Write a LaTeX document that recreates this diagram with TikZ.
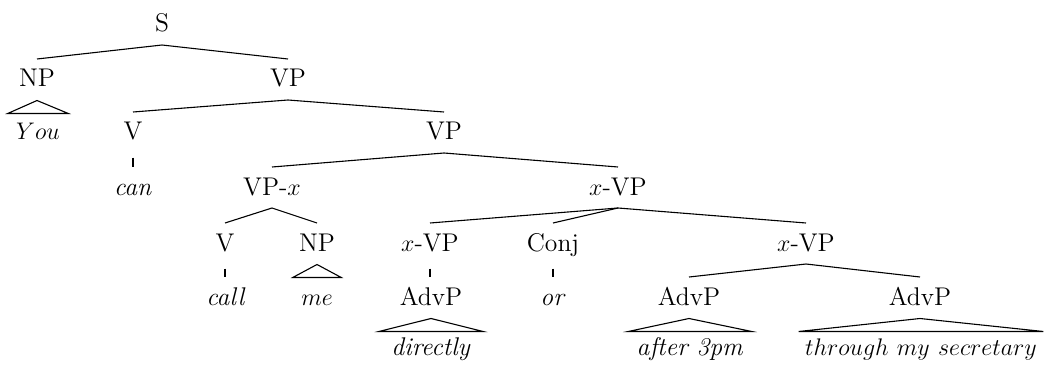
\documentclass[tikz,border=0pt]{standalone}
\usetikzlibrary{calc}
\begin{document}
\begin{tikzpicture}[x=0.5pt,y=-0.5pt,
  lab/.style={anchor=base,inner sep=0pt,font=\fontsize{12.8}{15}\selectfont},
  leaf/.style={anchor=base,inner ysep=0pt,inner xsep=4pt,font=\fontsize{12.8}{15}\selectfont},
  every path/.style={line width=0.55pt}]
\useasboundingbox (0,0) rectangle (1049,369);
\newcommand\tedge[2]{\draw ($(#1.base)+(0,13)$) -- ($(#2.base)+(0,-28)$);}
\newcommand\tbar[2]{\draw ($(#1.base)+(0,17.5)$) -- ($(#1.base |- #2.base)+(0,-28.5)$);}
\newcommand\ttri[2]{%
  \coordinate (#1-ta) at ($(#1.base)+(0,13.5)$);
  \coordinate (#1-tb) at ($(#1.base)+(0,26.5)$);
  \draw (#2.west |- #1-tb) -- (#1-ta) -- (#2.east |- #1-tb) -- cycle;}
% row 0
\node[lab] (S) at (162,32) {S};
% row 1
\node[lab] (NP) at (37,87) {NP};
\node[lab] (VP) at (288,87) {VP};
% row 2
\node[leaf] (You) at (38,140) {$You$};
\node[lab] (V) at (133,140) {V};
\node[lab] (VPb) at (444,140) {VP};
% row 3
\node[lab] (can) at (133,195) {\textit{can}};
\node[lab] (VPx) at (272,195) {VP-$x$};
\node[lab] (xVP) at (618,195) {$x$-VP};
% row 4
\node[lab] (Vb) at (225,251) {V};
\node[lab] (NPb) at (317,251) {NP};
\node[lab] (xVPa) at (430,251) {$x$-VP};
\node[lab] (Conj) at (553,251) {Conj};
\node[lab] (xVPb) at (806,251) {$x$-VP};
% row 5
\node[lab] (call) at (226,305) {\textit{call}};
\node[leaf] (me) at (317,305) {$me$};
\node[lab] (AdvPa) at (431,305) {AdvP};
\node[lab] (or) at (553,305) {\textit{or}};
\node[lab] (AdvPb) at (689,305) {AdvP};
\node[lab] (AdvPc) at (920,305) {AdvP};
% row 6
\node[leaf,inner xsep=6pt] (directly) at (431,355) {\textit{directly}};
\node[leaf] (after) at (690,355) {\textit{after 3pm}};
\node[leaf,inner xsep=3pt] (sec) at (921,355) {$through\ my\ secretary$};
% connectors
\tedge{S}{NP}
\tedge{S}{VP}
\ttri{NP}{You}
\tedge{VP}{V}
\tedge{VP}{VPb}
\tbar{V}{can}
\tedge{VPb}{VPx}
\tedge{VPb}{xVP}
\tedge{VPx}{Vb}
\tedge{VPx}{NPb}
\tbar{Vb}{call}
\ttri{NPb}{me}
\tedge{xVP}{xVPa}
\tedge{xVP}{Conj}
\tedge{xVP}{xVPb}
\tbar{xVPa}{AdvPa}
\tbar{Conj}{or}
\tedge{xVPb}{AdvPb}
\tedge{xVPb}{AdvPc}
\ttri{AdvPa}{directly}
\ttri{AdvPb}{after}
\ttri{AdvPc}{sec}
\end{tikzpicture}
\end{document}
